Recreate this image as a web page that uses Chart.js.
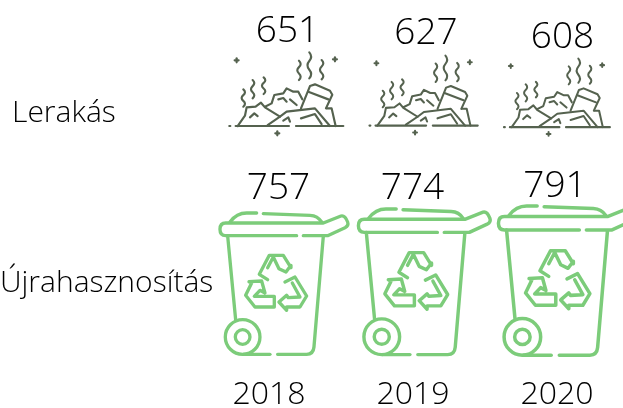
<!DOCTYPE html>
<html>
<head>
    <meta charset="utf-8">
    <title>Lerakás és újrahasznosítás</title>
    <script src="https://cdnjs.cloudflare.com/ajax/libs/Chart.js/4.4.1/chart.umd.js"></script>
    <style>
        html, body { margin: 0; padding: 0; background: #fff; }
        canvas { display: block; }
    </style>
</head>
<body>

<canvas id="myChart" width="623" height="408"></canvas>

<script>
    // data
    const years = ["2018", "2019", "2020"];
    const rows = ["Lerakás", "Újrahasznosítás"];
    const landfill = [651, 627, 608];
    const recycling = [757, 774, 791];

    // placement of pictures and numbers, relative to the point of each mark
    const landfillIcons = [{dx: -40.7, dy: -60.3, s: 1}, {dx: -44.5, dy: -57, s: 0.95}, {dx: -54, dy: -54, s: 0.93}];
    const recyclingIcons = [{dx: -50.7, dy: -70, s: 1}, {dx: -56.3, dy: -74, s: 1.03}, {dx: -60.3, dy: -77, s: 1.055}];
    const landfillText = [{dx: 18.5, dy: -81}, {dx: 13, dy: -78.5}, {dx: 5.5, dy: -75}];
    const recyclingText = [{dx: 9.5, dy: -93.5}, {dx: -0.5, dy: -93.5}, {dx: -2, dy: -96}];
    const rowLabelX = [12, 0];

    const FONT = '"Open Sans", sans-serif';
    const TEXT = "#000000";

    function iconCanvas(place, draw) {
        let c = document.createElement("canvas");
        c.width = 500;
        c.height = 500;
        let g = c.getContext("2d");
        g.translate(250 + place.dx, 250 + place.dy);
        g.scale(place.s / 3, place.s / 3);
        g.lineCap = "round";
        g.lineJoin = "round";
        draw(g);
        return c;
    }

    function poly(g, pts) {
        g.beginPath();
        g.moveTo(pts[0], pts[1]);
        for (let i = 2; i < pts.length; i += 2) g.lineTo(pts[i], pts[i + 1]);
        g.stroke();
    }

    function wave(g, x, y0, y1, amp) {
        let h = (y1 - y0) / 3;
        g.beginPath();
        g.moveTo(x, y0);
        g.quadraticCurveTo(x + amp, y0 + h / 2, x, y0 + h);
        g.quadraticCurveTo(x - amp, y0 + h * 1.5, x, y0 + h * 2);
        g.quadraticCurveTo(x + amp, y0 + h * 2.5, x, y1);
        g.stroke();
    }

    function plus(g, x, y) {
        poly(g, [x - 6, y, x + 6, y]);
        poly(g, [x, y - 6, x, y + 6]);
    }

    // pile of rubbish, sketched in 3x pixels of the picture
    function drawRubbish(g) {
        g.translate(-40, -155);
        g.strokeStyle = "#55624f";
        g.lineWidth = 6.5;
        poly(g, [62, 378, 222, 378]);
        poly(g, [243, 378, 385, 378]);
        poly(g, [43, 378, 46, 378]);
        plus(g, 187, 400);
        plus(g, 65, 181);
        plus(g, 360, 178);
        wave(g, 85, 268, 320, 10);
        wave(g, 113, 240, 295, 10);
        wave(g, 146, 232, 282, 10);
        wave(g, 252, 182, 240, 10);
        wave(g, 283, 157, 235, 11);
        wave(g, 320, 180, 238, 10);
        poly(g, [68, 378, 90, 347, 95, 322, 122, 320, 138, 308, 150, 322, 195, 350]);
        poly(g, [105, 352, 118, 340, 128, 348]);
        poly(g, [150, 320, 170, 310, 178, 285, 205, 280, 215, 265, 235, 275, 250, 275, 262, 298]);
        poly(g, [190, 298, 205, 294, 215, 305]);
        poly(g, [225, 298, 245, 315]);
        poly(g, [158, 375, 195, 350, 215, 335, 300, 325, 345, 378]);
        poly(g, [205, 362, 220, 352, 225, 365]);
        poly(g, [258, 355, 300, 342, 320, 372]);
        poly(g, [258, 325, 285, 258, 300, 253, 345, 272, 352, 284, 333, 325]);
        poly(g, [280, 275, 340, 298]);
        poly(g, [335, 325, 350, 325, 362, 378]);
    }

    // wheelie bin with recycling sign
    function drawBin(g) {
        g.translate(-40, -155);
        g.strokeStyle = "#7ccc7a";
        g.lineWidth = 10;
        g.beginPath();
        g.moveTo(275, 226);
        g.lineTo(62, 226);
        g.quadraticCurveTo(45, 226, 45, 207);
        g.quadraticCurveTo(45, 188, 62, 188);
        g.lineTo(355, 188);
        g.lineTo(408, 167);
        g.quadraticCurveTo(420, 164, 428, 185);
        g.quadraticCurveTo(432, 196, 420, 202);
        g.lineTo(368, 226);
        g.lineTo(295, 226);
        g.stroke();
        g.beginPath();
        g.moveTo(75, 185);
        g.quadraticCurveTo(95, 158, 125, 158);
        g.lineTo(155, 158);
        g.stroke();
        g.beginPath();
        g.moveTo(175, 160);
        g.lineTo(315, 165);
        g.quadraticCurveTo(338, 166, 350, 185);
        g.stroke();
        poly(g, [68, 226, 92, 478]);
        g.beginPath();
        g.moveTo(355, 228);
        g.lineTo(327, 560);
        g.quadraticCurveTo(325, 582, 305, 582);
        g.lineTo(218, 582);
        g.stroke();
        poly(g, [195, 582, 115, 582]);
        g.beginPath();
        g.arc(113, 530, 52, 0, Math.PI * 2);
        g.stroke();
        g.beginPath();
        g.arc(113, 530, 22, 0, Math.PI * 2);
        g.stroke();
        // recycling arrows
        poly(g, [188, 358, 163, 342, 193, 285, 235, 285, 258, 322, 258, 315, 243, 335, 222, 325, 205, 290, 188, 322]);
        poly(g, [240, 365, 270, 350, 305, 407, 285, 440, 245, 440, 245, 450, 222, 425, 245, 405, 250, 412, 285, 410, 262, 368]);
        poly(g, [208, 408, 208, 440, 150, 440, 122, 405, 140, 368, 132, 364, 170, 362, 180, 398, 165, 390, 148, 408, 208, 408]);
    }

    const numberPlugin = {
        id: "numbers",
        afterDraw(chart) {
            let ctx = chart.ctx;
            let yScale = chart.scales.y;
            ctx.save();
            ctx.fillStyle = TEXT;
            ctx.textBaseline = "middle";
            ctx.textAlign = "left";
            ctx.font = "300 30px " + FONT;
            rows.forEach((r, i) => ctx.fillText(r, rowLabelX[i], yScale.getPixelForValue(i) + 1));
            ctx.textAlign = "center";
            ctx.font = "300 37px " + FONT;
            chart.data.datasets.forEach((ds, i) => {
                chart.getDatasetMeta(i).data.forEach((pt, j) => {
                    let off = ds.textPlaces[j];
                    ctx.fillText(ds.values[j], pt.x + off.dx, pt.y + off.dy);
                });
            });
            ctx.restore();
        }
    };

    function makeDataset(row, values, icons, places, draw) {
        return {
            label: row,
            values: values,
            textPlaces: places,
            data: years.map(y => ({x: y, y: row})),
            pointStyle: icons.map(p => iconCanvas(p, draw)),
            pointRadius: 2,
            showLine: false,
            clip: false
        };
    }

    new Chart(document.getElementById("myChart"), {
        type: "line",
        data: {
            labels: years,
            datasets: [
                makeDataset(rows[0], landfill, landfillIcons, landfillText, drawRubbish),
                makeDataset(rows[1], recycling, recyclingIcons, recyclingText, drawBin)
            ]
        },
        plugins: [numberPlugin],
        options: {
            responsive: false,
            animation: false,
            layout: {padding: {left: 269, right: 66, top: 112, bottom: 0}},
            plugins: {legend: {display: false}, tooltip: {enabled: false}},
            scales: {
                x: {
                    type: "category",
                    labels: years,
                    // long invisible tick marks push the years down, tick padding would also eat the sides
                    grid: {drawOnChartArea: false, tickColor: "transparent", tickLength: 94},
                    border: {display: false},
                    afterFit(scale) { scale.height = 126; },
                    ticks: {
                        padding: 0,
                        color: TEXT,
                        maxRotation: 0,
                        autoSkip: false,
                        font: {family: FONT, size: 32, weight: "300"}
                    }
                },
                y: {
                    type: "category",
                    labels: rows,
                    offset: false,
                    display: false
                }
            }
        }
    });
</script>

</body>
</html>
